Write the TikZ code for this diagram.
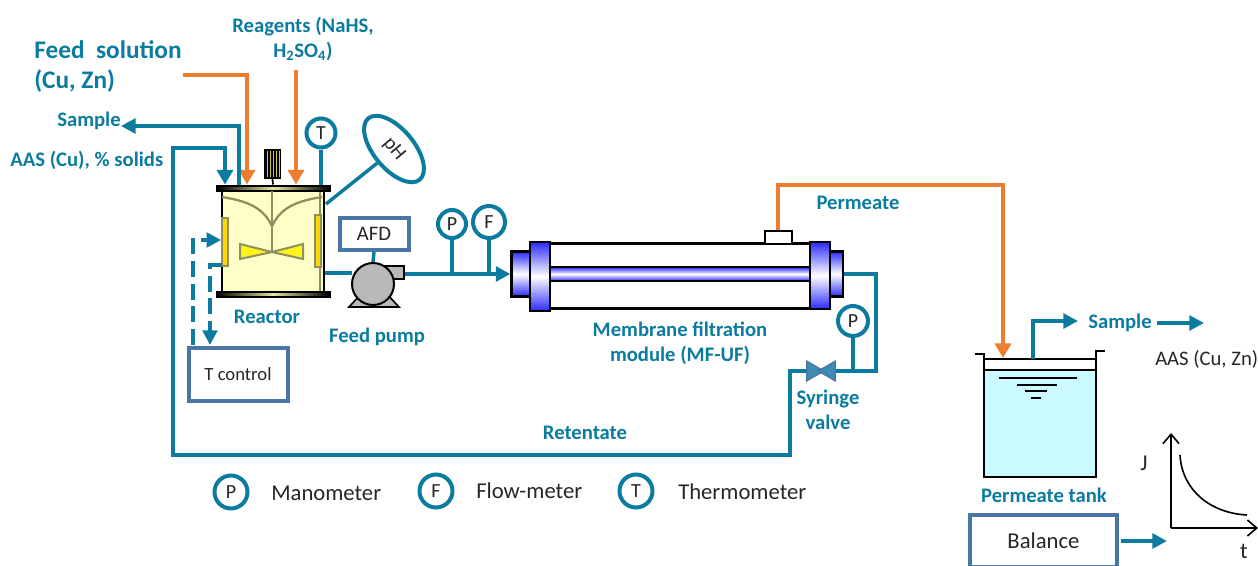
\documentclass[tikz,border=0pt]{standalone}
\usepackage{fontspec}
\setmainfont{Carlito}
\usetikzlibrary{arrows.meta,shapes.geometric,calc}
\definecolor{teal1}{HTML}{0B7BA0}
\definecolor{orange1}{HTML}{ED7D31}
\definecolor{box1}{HTML}{4A76A5}
\definecolor{ink}{HTML}{262626}
\definecolor{react}{HTML}{FFFFC8}
\definecolor{bladeg}{HTML}{8E8E60}
\definecolor{cyl}{HTML}{2A2AFF}
\definecolor{water}{HTML}{CCFBFF}
\tikzset{
 pipe/.style={draw=teal1,line width=3pt,line join=miter},
 thin pipe/.style={draw=teal1,line width=2.6pt},
 tipt/.style={-{Triangle[length=11pt,width=11pt]}},
 flow/.style={draw=orange1,line width=3pt,-{Triangle[length=11pt,width=12pt]}},
 lab/.style={text=teal1,font=\fontsize{15.5}{19}\selectfont\bfseries,inner sep=0pt,align=center},
 biglab/.style={text=teal1,font=\fontsize{19}{22}\selectfont\bfseries,inner sep=0pt,anchor=west},
 dark/.style={text=ink,font=\fontsize{17}{20}\selectfont,inner sep=0pt},
 gauge/.style={circle,draw=teal1,line width=3pt,fill=white,text=ink,inner sep=0pt,font=\fontsize{15}{16}\selectfont},
 infobox/.style={draw=box1,line width=3pt,fill=white,text=ink,inner sep=0pt,font=\fontsize{15.5}{18}\selectfont},
 cylv/.style={draw=black,line width=1.6pt,inner sep=0pt,top color=cyl,bottom color=cyl,middle color=white},
 flange/.style={draw=black,line width=1.5pt,inner sep=0pt,left color=black,right color=black,middle color=react!80!olive},
}
\begin{document}
\begin{tikzpicture}[x=0.75pt,y=-0.75pt]
\useasboundingbox (0,0) rectangle (1258,565);
\clip (0,0) rectangle (1258,565);

% ---------- reactor
\node[draw=black,line width=1.5pt,fill=react,inner sep=0pt,minimum width=102*.75pt,minimum height=104*.75pt] (reactor) at (273,240) {};
\draw[bladeg,line width=2pt] (320,190) -- (320,291);
\node[flange,minimum width=113*.75pt,minimum height=5*.75pt] (lid) at (273,188) {};
\node[flange,minimum width=113*.75pt,minimum height=5*.75pt] (base) at (273,294) {};
\node[draw=black,line width=1pt,inner sep=0pt,minimum width=16*.75pt,minimum height=29*.75pt,fill=black] (motor) at (272.5,164) {};
\foreach \x in {267,270,273,276,279} \draw[yellow!80!black,line width=.6pt] (\x,151) -- (\x,177);
\draw[black,line width=1.3pt] (motor.south) -- (lid.north);
\draw[bladeg,line width=1.7pt] (272,191) -- (272,252);
\draw[bladeg,line width=1.7pt] (222,197) .. controls (255,202) and (265,212) .. (272,226) .. controls (279,212) and (289,202) .. (322,197);
\draw[bladeg,line width=1.5pt,fill=yellow!90!white] (240,244) -- (272,252) -- (240,259) -- cycle;
\draw[bladeg,line width=1.5pt,fill=yellow!90!white] (303,244) -- (272,252) -- (303,259) -- cycle;
\node[draw=bladeg,line width=1.2pt,fill=yellow!75!orange,inner sep=0pt,minimum width=6*.75pt,minimum height=48*.75pt] (baffleL) at (225,242) {};
\node[draw=bladeg,line width=1.2pt,fill=yellow!75!orange,inner sep=0pt,minimum width=6*.75pt,minimum height=52*.75pt] (baffleR) at (318,241) {};
\node[lab] (reactorlab) at (267,317) {Reactor};

% ---------- top labels and flows
\node[biglab] (feedlab) at (34,50) {Feed\ \ solution};
\node[biglab] (feedlab2) at (34,81) {(Cu, Zn)};
\node[lab] (reagents) at (303,39) {Reagents (NaHS,\\H\textsubscript{2}SO\textsubscript{4})};
\coordinate (feedstart) at (183,75);
\coordinate (reagentstart) at (296,70);
\draw[flow] (feedstart) -| (lid.north -| 247,0);
\draw[flow] (reagentstart) -- (lid.north -| 296,0);
\node[lab] (samplelab) at (89,121) {Sample};
\coordinate (samplestart) at (239,185);
\draw[pipe,tipt] (samplestart) |- (samplelab.east |- 0,126);
\node[lab,anchor=west] (aaslab) at (10,160) {AAS (Cu), \% solids};

% ---------- instruments on reactor
\node[gauge,minimum size=29*.75pt] (gaugeT) at (321,133) {T};
\draw[thin pipe] (gaugeT.south) -- (lid.north -| gaugeT.south);
\node[ellipse,draw=teal1,line width=3pt,fill=white,text=ink,inner sep=0pt,minimum width=80*.75pt,minimum height=40*.75pt,rotate=-50,font=\fontsize{15}{16}\selectfont] (gaugepH) at (394,149) {pH};
\coordinate (phfoot) at (326,204);
\draw[thin pipe] (phfoot) -- (gaugepH.south);

% ---------- T control
\node[infobox,font=\fontsize{14}{17}\selectfont,minimum width=99*.75pt,minimum height=53*.75pt] (tcontrol) at (238,374) {T control};
\coordinate (dashL) at (193,345);
\coordinate (dashR) at (210,345);
\draw[thin pipe,dash pattern=on 12pt off 5pt,tipt] (dashL) |- (baffleL.west |- 0,240);
\draw[thin pipe,dash pattern=on 12pt off 5pt,tipt] (222,265) -| (dashR);

% ---------- pump + AFD
\draw[pipe] (reactor.east |- 0,273) -- (352,273);
\node[infobox,minimum width=69*.75pt,minimum height=32*.75pt] (afd) at (374,234) {AFD};
\node[draw=black,line width=1.5pt,fill=gray!55,inner sep=0pt,minimum width=20*.75pt,minimum height=13*.75pt] (outlet) at (394,272.5) {};
\draw[black,line width=1.2pt,fill=gray!55] (349,307) -- (362,293) -- (386,293) -- (399,307) -- cycle;
\node[circle,draw=black,line width=1.5pt,fill=gray!55,inner sep=0pt,minimum size=42*.75pt] (pump) at (373,284) {};
\draw[thin pipe] (afd.south) -- (pump.north);
\node[lab] (pumplab) at (377,337) {Feed pump};

% ---------- membrane module
\node[draw=black,line width=1.6pt,fill=white,inner sep=0pt,minimum width=262*.75pt,minimum height=65*.75pt] (tube) at (680,276) {};
\node[cylv,minimum width=260*.75pt,minimum height=14*.75pt] (membrane) at (680,274) {};
\node[cylv,minimum width=21*.75pt,minimum height=45*.75pt] (capL) at (522,274) {};
\node[cylv,minimum width=20*.75pt,minimum height=69*.75pt] (flangeL) at (540,276.5) {};
\node[cylv,minimum width=14*.75pt,minimum height=45*.75pt] (capR) at (836,274) {};
\node[cylv,minimum width=20*.75pt,minimum height=67*.75pt] (flangeR) at (820,275.5) {};
\node[draw=black,line width=1.5pt,fill=white,inner sep=0pt,minimum width=27*.75pt,minimum height=13*.75pt] (port) at (778,237.5) {};
\node[lab] (modlab) at (680,343) {Membrane filtration\\module (MF-UF)};
\draw[pipe,tipt] (outlet.east |- capL.west) -- (capL.west);
\node[gauge,minimum size=28*.75pt] (gaugeP1) at (452,224) {P};
\node[gauge,minimum size=32*.75pt] (gaugeF) at (489,222) {F};
\draw[thin pipe] (gaugeP1.south) -- (gaugeP1.south |- 0,273);
\draw[thin pipe] (gaugeF.south) -- (gaugeF.south |- 0,273);

% ---------- permeate and retentate
\node[lab] (permlab) at (858,203) {Permeate};
\coordinate (tankin) at (1003,358);
\draw[flow] (port.north) |- (1003,185) -- (tankin);

\node[gauge,minimum size=30*.75pt] (gaugeP2) at (853,321) {P};
\node[draw=box1,line width=.8pt,fill=box1!85!cyan,inner sep=0pt,isosceles triangle,isosceles triangle apex angle=60,minimum height=17*.75pt,minimum width=20*.75pt,shape border rotate=0] (valveL) at (812.5,371) {};
\node[draw=box1,line width=.8pt,fill=box1!85!cyan,inner sep=0pt,isosceles triangle,isosceles triangle apex angle=60,minimum height=17*.75pt,minimum width=20*.75pt,shape border rotate=180] (valveR) at (829.5,371) {};
\draw[pipe] (capR.east) -| (876,371) -- (valveR.east);
\draw[thin pipe] (gaugeP2.south) -- (gaugeP2.south |- 0,371);
\coordinate (retcorner) at (173,455);
\draw[pipe,-{Triangle[length=11pt,width=12pt]}] (valveL.west) -| (790,455) -- (retcorner) |- (225,148) -- (lid.north -| 225,0);
\node[lab] (valvelab) at (828,410) {Syringe\\valve};
\node[lab] (retlab) at (585,433) {Retentate};

% ---------- legend
\node[gauge,minimum size=33*.75pt] (legP) at (231,492) {P};
\node[dark,anchor=west] (legPt) at (271,493) {Manometer};
\node[gauge,minimum size=33*.75pt] (legF) at (436,491) {F};
\node[dark,anchor=west] (legFt) at (476,491) {Flow-meter};
\node[gauge,minimum size=33*.75pt] (legT) at (636,491) {T};
\node[dark,anchor=west] (legTt) at (678,492) {Thermometer};

% ---------- tank
\fill[water] (984,370) rectangle (1096,477);
\node[draw=black,line width=1.5pt,inner sep=0pt,minimum width=112*.75pt,minimum height=118*.75pt] (tank) at (1040,418) {};
\draw[black,line width=1.5pt] (975,354) -- (984,354) -- (984,359);
\draw[black,line width=1.5pt] (1096,359) -- (1096,351) -- (1105,351);
\draw[black,line width=1.5pt] (984,370) -- (1096,370);
\draw[black,line width=1.2pt] (999,378) -- (1077,378) (1017,385) -- (1057,385) (1025,391) -- (1047,391) (1031,398) -- (1041,398);
\node[lab] (tanklab) at (1044,495) {Permeate tank};
\node[lab] (samplelab2) at (1120,323) {Sample};
\coordinate (tanksample) at (1033,359);
\draw[pipe,tipt] (tanksample) |- (1078,321);
\coordinate (samplearrow) at (1157,323);
\coordinate (aasarrow) at (1204,323);
\draw[pipe,tipt] (samplearrow) -- (aasarrow);
\node[dark,font=\fontsize{15.5}{18}\selectfont,anchor=west] (aascu) at (1155,359) {AAS (Cu, Zn)};

% ---------- balance and plot
\node[infobox,font=\fontsize{17}{20}\selectfont,minimum width=147*.75pt,minimum height=52*.75pt] (balance) at (1043.5,541) {Balance};
\coordinate (balout) at (1121,541);
\coordinate (plotin) at (1167,541);
\draw[pipe,tipt] (balout) -- (plotin);
\coordinate (origin) at (1171,528);
\coordinate (ytop) at (1171,433);
\coordinate (xend) at (1258,528);
\draw[black,line width=1.2pt,-{Straight Barb[length=7pt,width=12pt]}] (origin) -- (ytop);
\draw[black,line width=1.2pt,-{Straight Barb[length=7pt,width=12pt]}] (origin) -- (xend);
\draw[black,line width=1.2pt] (1180,455) .. controls (1182,490) and (1210,513) .. (1247,515);
\node[dark] (jlab) at (1144,463) {J};
\node[dark] (tlab) at (1244,551) {t};
\end{tikzpicture}
\end{document}
